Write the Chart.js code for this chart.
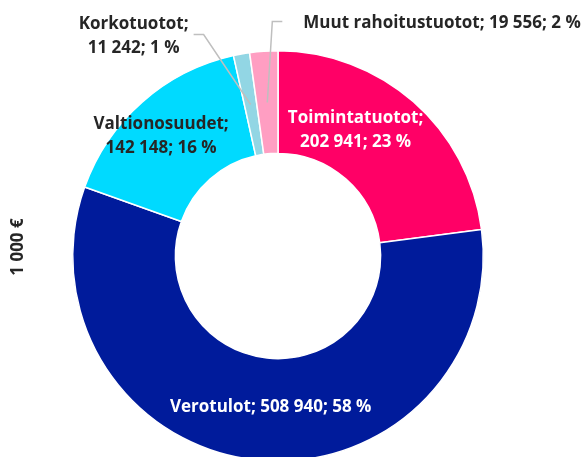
<!DOCTYPE html>
<html>
<head>
<meta charset="utf-8">
<script src="https://cdn.jsdelivr.net/npm/chart.js@4/dist/chart.umd.min.js"></script>
<style>
  html, body { margin: 0; padding: 0; background: #fff; overflow: hidden; }
  #wrap { width: 582px; height: 457px; overflow: hidden; position: relative; }
</style>
</head>
<body>
<div id="wrap"><canvas id="tuototChart" width="582" height="512"></canvas></div>
<script>
// Tuotot (1 000 €)
const categories = ['Toimintatuotot', 'Verotulot', 'Valtionosuudet', 'Korkotuotot', 'Muut rahoitustuotot'];
const values = [202941, 508940, 142148, 11242, 19556];
const colors = ['#FF0066', '#001B9B', '#00DAFF', '#92D6E4', '#FF9EC2'];
const axisTitle = '1 000 €';

const total = values.reduce((a, b) => a + b, 0);
const fmt = v => String(v).replace(/\B(?=(\d{3})+(?!\d))/g, ' ');
const FONT = 'bold 17px "Open Sans", "Noto Sans", sans-serif';

// label placement per slice (offsets from the arc centre point)
const labelStyle = [
    { mode: 'in', color: '#fff', split: true, dx: -24, dy: -10 },
    { mode: 'in', color: '#fff', split: false, dx: 9, dy: -2 },
    { mode: 'in', color: '#262626', split: true, dx: -15, dy: -4 },
    { mode: 'out', color: '#262626', split: true, dx: -117, dy: -68, elbow: [-47, -70], end: [-57, -70] },
    { mode: 'out', color: '#262626', split: false, align: 'left', dx: 36, dy: -79, elbow: [5, -81], end: [15, -81] },
];

const labelPlugin = {
    id: 'sliceLabels',
    afterDatasetsDraw(chart) {
        const ctx = chart.ctx;
        const meta = chart.getDatasetMeta(0);
        ctx.save();
        ctx.font = FONT;
        ctx.textBaseline = 'middle';
        meta.data.forEach((arc, i) => {
            const st = labelStyle[i];
            const p = arc.getCenterPoint();
            const pct = Math.round(values[i] / total * 100);
            const lines = st.split
                ? [categories[i] + ';', fmt(values[i]) + '; ' + pct + ' %']
                : [categories[i] + '; ' + fmt(values[i]) + '; ' + pct + ' %'];
            if (st.mode === 'out') {
                ctx.strokeStyle = '#BFBFBF';
                ctx.lineWidth = 1.5;
                ctx.beginPath();
                ctx.moveTo(p.x, p.y);
                ctx.lineTo(p.x + st.elbow[0], p.y + st.elbow[1]);
                ctx.lineTo(p.x + st.end[0], p.y + st.end[1]);
                ctx.stroke();
            }
            ctx.fillStyle = st.color;
            ctx.textAlign = st.align || 'center';
            const lh = 24;
            const y0 = p.y + st.dy - (lines.length - 1) * lh / 2;
            lines.forEach((t, k) => ctx.fillText(t, p.x + st.dx, y0 + k * lh));
        });
        ctx.restore();
    }
};

const axisTitlePlugin = {
    id: 'axisTitle',
    afterDraw(chart) {
        const ctx = chart.ctx;
        ctx.save();
        ctx.font = FONT;
        ctx.fillStyle = '#262626';
        ctx.textAlign = 'center';
        ctx.textBaseline = 'middle';
        ctx.translate(18, 247);
        ctx.rotate(-Math.PI / 2);
        ctx.fillText(axisTitle, 0, 0);
        ctx.restore();
    }
};

new Chart(document.getElementById('tuototChart'), {
    type: 'doughnut',
    data: {
        labels: categories,
        datasets: [{
            data: values,
            backgroundColor: colors,
            borderColor: '#ffffff',
            borderWidth: 1.5,
        }]
    },
    options: {
        responsive: false,
        animation: false,
        cutout: '50%',
        layout: {
            padding: { top: 50, bottom: 50, left: 72, right: 98 }
        },
        plugins: {
            legend: { display: false },
            tooltip: { enabled: false },
        }
    },
    plugins: [labelPlugin, axisTitlePlugin]
});
</script>
</body>
</html>
